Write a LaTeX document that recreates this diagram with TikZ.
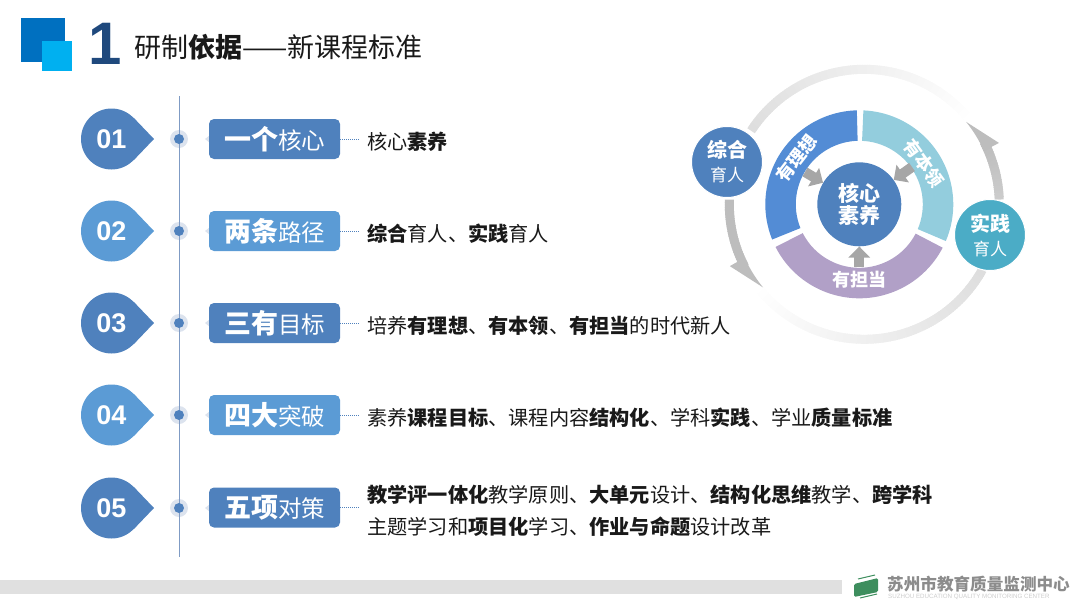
\documentclass[tikz,border=0pt]{standalone}
\usepackage{fontspec}
\usepackage{xcolor}
\usetikzlibrary{arrows.meta}
\setmainfont{Noto Sans CJK SC}
\newfontfamily\latinfont{Liberation Sans}
\definecolor{sjNavy}{HTML}{1F497D}
\definecolor{sjBlue}{HTML}{0070C0}
\definecolor{sjSky}{HTML}{00B0F0}
\definecolor{sjRowA}{HTML}{4F81BD}
\definecolor{sjRowB}{HTML}{5B9BD5}
\definecolor{sjSpine}{HTML}{7F9BC4}
\definecolor{sjHalo}{HTML}{DCE3EE}
\definecolor{sjIdeal}{HTML}{538CD5}
\definecolor{sjSkill}{HTML}{93CDDD}
\definecolor{sjDuty}{HTML}{B1A0C7}
\definecolor{sjTeal}{HTML}{4BACC6}
\definecolor{sjGreen}{HTML}{3E8E5E}
\newcommand{\lead}[1]{{\fontsize{27}{27}\selectfont\bfseries #1}}

\begin{document}
\begin{tikzpicture}[
    x=1pt, y=-1pt,
    dropnum/.style={circle, fill=#1, minimum size=61pt, inner sep=0pt, text=white,
                font=\latinfont\bfseries\fontsize{27}{27}\selectfont},
    dropnum/.default=sjRowA,
    halo/.style={circle, fill=sjHalo, minimum size=18pt, inner sep=0pt},
    dotmark/.style={circle, fill=sjRowA, minimum size=10pt, inner sep=0pt},
    keybox/.style={rounded corners=5pt, minimum width=131pt, minimum height=40pt, inner sep=0pt,
                fill=#1, text=white, font=\fontsize{23.5}{26}\selectfont},
    keybox/.default=sjRowA,
    rowtext/.style={anchor=west, inner xsep=8pt, inner ysep=0pt, align=left, text=black!90,
                font=\fontsize{20.2}{32}\selectfont},
    link/.style={sjRowA, densely dotted, line width=1pt},
    sector/.style={white, font=\bfseries\fontsize{18}{18}\selectfont, inner sep=0pt},
    ball/.style={circle, fill=#1, draw=white, line width=1pt, minimum size=71pt, inner sep=0pt,
                align=center, text=white, font=\bfseries\fontsize{20}{24}\selectfont},
    small/.style={font=\mdseries\fontsize{17}{24}\selectfont},
    blockarrow/.style={line width=10pt, black!35, -{Triangle[width=21pt,length=11pt]}}
]
    \useasboundingbox (0,0) rectangle (1080,608);

    % --- Title ---
    \fill[sjBlue] (21,18) rectangle (65,62);
    \fill[sjSky] (42,41) rectangle (72,71);
    \node[text=sjNavy, font=\latinfont\bfseries\fontsize{60}{60}\selectfont, inner sep=0pt] (bignum) at (105,44) {1};
    \node[anchor=west, inner sep=0pt, text=black!90, font=\fontsize{27}{30}\selectfont] (title) at (134,47)
        {研制\textbf{依据}——新课程标准};

    % --- Spine ---
    \coordinate (spineTop) at (179,96);
    \coordinate (spineEnd) at (179,557);
    \node[halo] (haloA) at (179,139) {};
    \node[halo] (haloB) at (179,231) {};
    \node[halo] (haloC) at (179,323) {};
    \node[halo] (haloD) at (179,415) {};
    \node[halo] (haloE) at (179,508) {};
    \draw[sjSpine, line width=1pt] (spineTop) -- (spineEnd);

    % --- Row 01 ---
    \node[dropnum=sjRowA] (numA) at (111.5,139) {\raisebox{-3pt}{01}};
    \fill[sjRowA] (numA.44) -- (154,139) -- (numA.-44) -- cycle;
    \node[dotmark] (dotA) at (179,139) {};
    \fill[sjHalo] (205,139) -- (210,135) -- (210,143) -- cycle;
    \node[keybox=sjRowA] (boxA) at (274.5,139) {\lead{一个}核心};
    \node[rowtext] (txtA) at (359,142) {核心\textbf{素养}};
    \draw[link] (boxA.east) -- (boxA.east -| txtA.west);

    % --- Row 02 ---
    \node[dropnum=sjRowB] (numB) at (111.5,231) {\raisebox{-3pt}{02}};
    \fill[sjRowB] (numB.44) -- (154,231) -- (numB.-44) -- cycle;
    \node[dotmark] (dotB) at (179,231) {};
    \fill[sjHalo] (205,231) -- (210,227) -- (210,235) -- cycle;
    \node[keybox=sjRowB] (boxB) at (274.5,231) {\lead{两条}路径};
    \node[rowtext] (txtB) at (359,234) {\textbf{综合}育人、\textbf{实践}育人};
    \draw[link] (boxB.east) -- (boxB.east -| txtB.west);

    % --- Row 03 ---
    \node[dropnum=sjRowA] (numC) at (111.5,323) {\raisebox{-3pt}{03}};
    \fill[sjRowA] (numC.44) -- (154,323) -- (numC.-44) -- cycle;
    \node[dotmark] (dotC) at (179,323) {};
    \fill[sjHalo] (205,323) -- (210,319) -- (210,327) -- cycle;
    \node[keybox=sjRowA] (boxC) at (274.5,323) {\lead{三有}目标};
    \node[rowtext] (txtC) at (359,326) {培养\textbf{有理想}、\textbf{有本领}、\textbf{有担当}的时代新人};
    \draw[link] (boxC.east) -- (boxC.east -| txtC.west);

    % --- Row 04 ---
    \node[dropnum=sjRowB] (numD) at (111.5,415) {\raisebox{-3pt}{04}};
    \fill[sjRowB] (numD.44) -- (154,415) -- (numD.-44) -- cycle;
    \node[dotmark] (dotD) at (179,415) {};
    \fill[sjHalo] (205,415) -- (210,411) -- (210,419) -- cycle;
    \node[keybox=sjRowB] (boxD) at (274.5,415) {\lead{四大}突破};
    \node[rowtext] (txtD) at (359,418) {素养\textbf{课程目标}、课程内容\textbf{结构化}、学科\textbf{实践}、学业\textbf{质量标准}};
    \draw[link] (boxD.east) -- (boxD.east -| txtD.west);

    % --- Row 05 ---
    \node[dropnum=sjRowA] (numE) at (111.5,508) {\raisebox{-3pt}{05}};
    \fill[sjRowA] (numE.44) -- (154,508) -- (numE.-44) -- cycle;
    \node[dotmark] (dotE) at (179,508) {};
    \fill[sjHalo] (205,508) -- (210,504) -- (210,512) -- cycle;
    \node[keybox=sjRowA] (boxE) at (274.5,507.5) {\lead{五项}对策};
    \node[rowtext] (txtE) at (359,511) {\textbf{教学评一体化}教学原则、\textbf{大单元}设计、\textbf{结构化思维}教学、\textbf{跨学科}\\
        主题学习和\textbf{项目化}学习、\textbf{作业与命题}设计改革};
    \draw[link] (boxE.east) -- (boxE.east -| txtE.west);

    % --- Outer loop ---
    \begin{scope}[shift={(864.3,204.3)}, x=1pt, y=1pt]
        \foreach \a in {147,146,...,40} {
            \pgfmathsetmacro{\k}{13*(\a-40)/107}
            \draw[black!\k, line width=9pt] (\a:135) arc[start angle=\a, end angle=\a-1.5, radius=135];
        }
        \foreach \a in {-29,-30,...,-141} {
            \pgfmathsetmacro{\k}{13*(\a+141)/112}
            \draw[black!\k, line width=9pt] (\a:135) arc[start angle=\a, end angle=\a-1.5, radius=135];
        }
        \foreach \a in {2,3,...,26} {
            \pgfmathsetmacro{\k}{20+6*(\a-2)/24}
            \draw[black!\k, line width=9pt] (\a:135) arc[start angle=\a, end angle=\a+1.5, radius=135];
        }
        \foreach \a in {178,179,...,206} {
            \pgfmathsetmacro{\k}{26}
            \draw[black!\k, line width=9pt] (\a:135) arc[start angle=\a, end angle=\a+1.5, radius=135];
        }
        \fill[black!26] (24.5:148) -- (39:131) arc[start angle=39, end angle=24, radius=130.5] -- cycle;
        \fill[black!26] (204.7:148) -- (219.4:131) arc[start angle=219.4, end angle=204, radius=130.5] -- cycle;
    \end{scope}

    % --- Ring ---
    \begin{scope}[shift={(859.3,204.3)}, x=1pt, y=1pt]
        \fill[sjIdeal] (91.5:94) arc[start angle=91.5, end angle=202, radius=94]
            -- (202:63.5) arc[start angle=202, end angle=91.5, radius=63.5] -- cycle;
        \fill[sjSkill] (87.5:94) arc[start angle=87.5, end angle=-23, radius=94]
            -- (-23:63.5) arc[start angle=-23, end angle=87.5, radius=63.5] -- cycle;
        \fill[sjDuty] (207:94) arc[start angle=207, end angle=332.5, radius=94]
            -- (332.5:63.5) arc[start angle=332.5, end angle=207, radius=63.5] -- cycle;
    \end{scope}
    \node[sector, rotate=52] (ideal) at (797,158) {有理想};
    \node[sector, rotate=-54] (skill) at (924,163) {有本领};
    \node[sector] (duty) at (859,280) {有担当};

    % --- Core and balls ---
    \node[circle, fill=sjRowA, minimum size=84pt, inner sep=0pt, align=center, text=white,
        font=\bfseries\fontsize{21}{22}\selectfont] (core) at (859.3,204.3) {核心\\素养};
    \coordinate (armA) at (805,172);
    \coordinate (armB) at (912,167);
    \coordinate (armC) at (859.3,267);
    \draw[blockarrow] (armA) -- (core);
    \draw[blockarrow] (armB) -- (core);
    \draw[blockarrow] (armC) -- (core);
    \node[ball=sjRowA] (zonghe) at (727,162) {综合\\{\small\mdseries\fontsize{17}{24}\selectfont 育人}};
    \node[ball=sjTeal] (shijian) at (990,235) {实践\\{\small\mdseries\fontsize{17}{24}\selectfont 育人}};

    % --- Footer ---
    \fill[black!12] (0,580) rectangle (842,594);
    \fill[sjGreen, rounded corners=1.5pt] (854,584) -- (878,578) -- (878,592) -- (854,597) -- cycle;
    \draw[sjGreen, line width=1pt] (858,579) -- (875,575);
    \draw[sjGreen, line width=1pt] (860,598) -- (877,594);
    \node[anchor=west, inner sep=0pt, text=black!45, font=\bfseries\fontsize{16.6}{17}\selectfont] (org) at (887,584)
        {苏州市教育质量监测中心};
    \node[anchor=west, inner sep=0pt, text=black!20, font=\latinfont\fontsize{6.2}{7}\selectfont] (orgEn) at (888,597)
        {SUZHOU EDUCATION QUALITY MONITORING CENTER};
\end{tikzpicture}
\end{document}
